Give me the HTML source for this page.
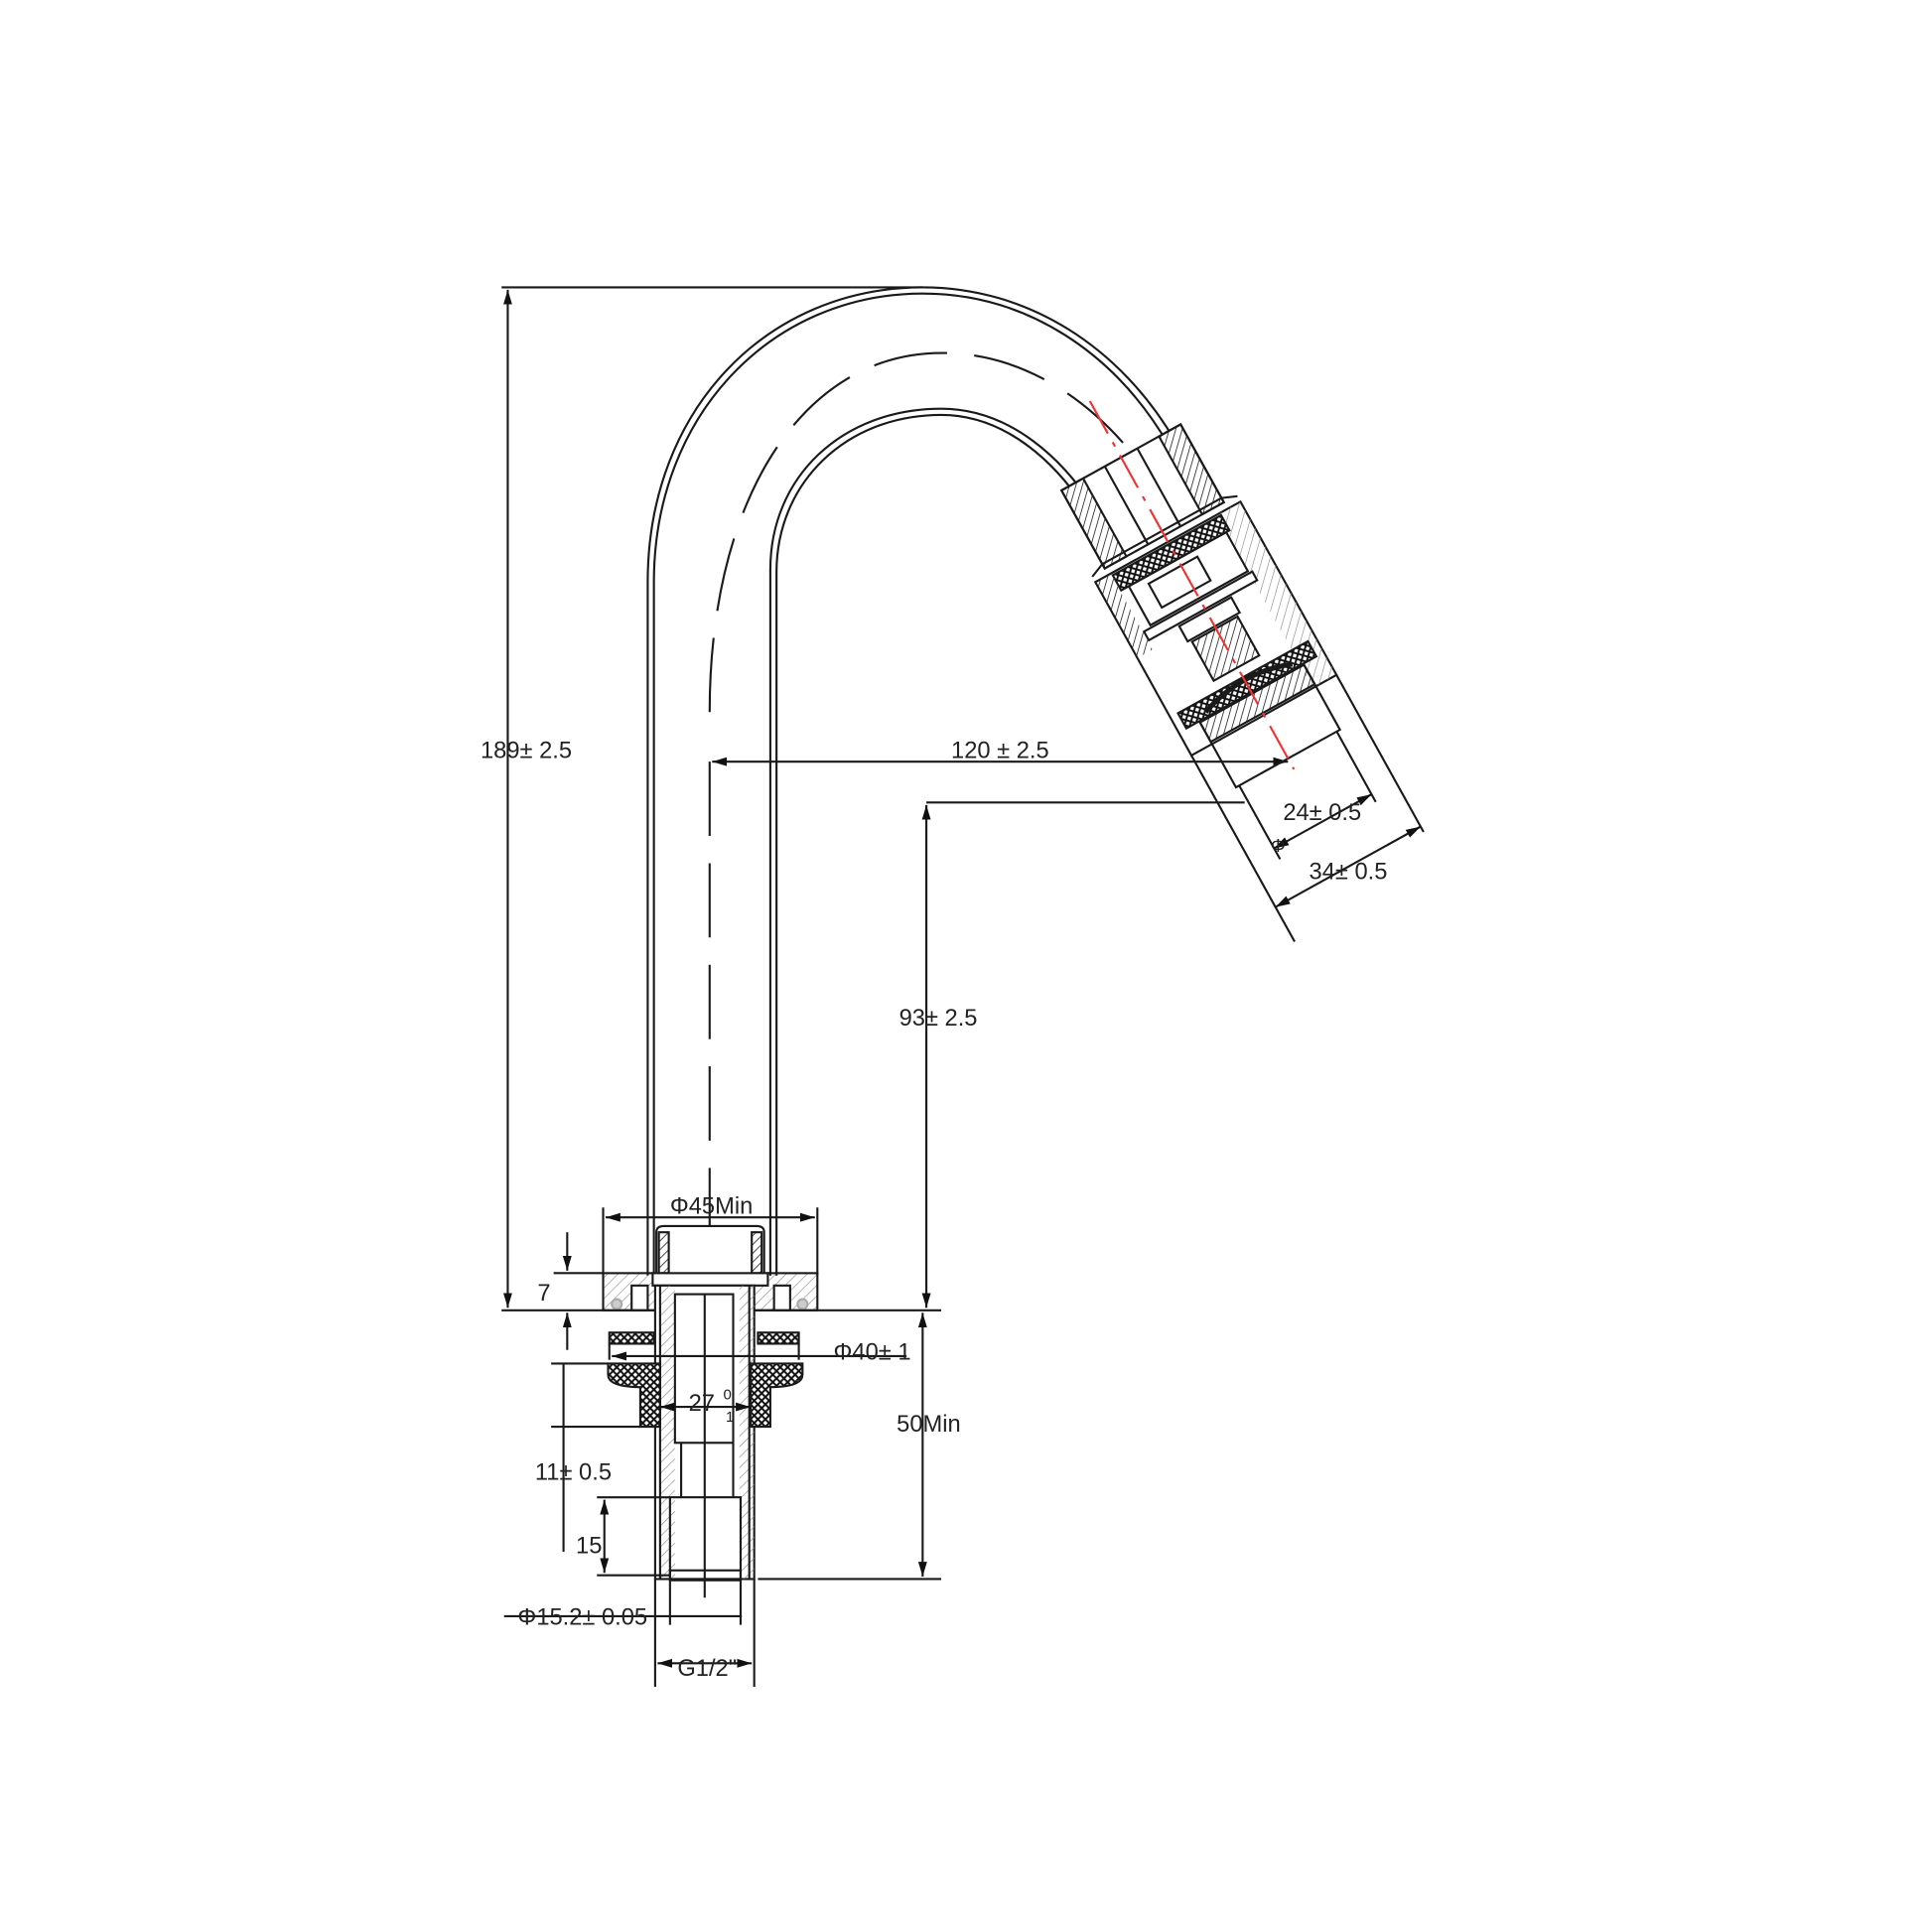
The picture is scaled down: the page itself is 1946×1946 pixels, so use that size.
<!DOCTYPE html>
<html><head><meta charset="utf-8"><style>
html,body{margin:0;padding:0;background:#fff;}
svg{display:block;}
text{font-family:"Liberation Sans",sans-serif;fill:#222;}
</style></head><body>
<svg width="1946" height="1946" viewBox="0 0 1560 1560" xmlns="http://www.w3.org/2000/svg">
<defs>
<pattern id="h" width="6" height="6" patternUnits="userSpaceOnUse" patternTransform="rotate(45)">
<line x1="0" y1="0" x2="0" y2="6" stroke="#888" stroke-width="1"/></pattern>
<pattern id="hd" width="5" height="5" patternUnits="userSpaceOnUse" patternTransform="rotate(45)">
<line x1="0" y1="0" x2="0" y2="5" stroke="#222" stroke-width="1.3"/></pattern>
<pattern id="x" width="6" height="6" patternUnits="userSpaceOnUse">
<rect width="6" height="6" fill="#fff"/><path d="M0 0L6 6M6 0L0 6" stroke="#111" stroke-width="1.6"/></pattern>
<marker id="a" viewBox="0 0 10 10" refX="10" refY="5" markerWidth="7" markerHeight="7" orient="auto-start-reverse"><path d="M0 2L10 5L0 8z" fill="#111"/></marker>
</defs>
<rect width="1560" height="1560" fill="#fff"/>
<g fill="none" stroke="#1a1a1a" stroke-width="1.7">
<line x1="405" y1="232" x2="745" y2="232"/>
<line x1="410" y1="234" x2="410" y2="1056" marker-start="url(#a)" marker-end="url(#a)"/>
<path d="M523,1030 V470 C523,330 620,232 745,232 C830,232 905,280 950,358"/>
<path d="M528,1030 V470 C528,335 623,237 745,237 C828,237 900,284 944,360"/>
<path d="M622,1030 V460 C622,385 680,330 760,330 C815,330 860,370 888,418"/>
<path d="M627,1030 V462 C627,390 683,335 760,335 C812,335 855,374 882,420"/>
<line x1="573" y1="615" x2="573" y2="1075" stroke-dasharray="60,22"/>
<path d="M573,575 C573,400 650,285 760,285 C840,285 900,340 935,395" stroke-dasharray="60,22"/>
<line x1="575" y1="615" x2="1040" y2="615" marker-start="url(#a)" marker-end="url(#a)"/>
<line x1="748" y1="648" x2="1005" y2="648"/>
<line x1="748" y1="650" x2="748" y2="1056" marker-start="url(#a)" marker-end="url(#a)"/>
<g transform="translate(991.5,525) rotate(-29)">
<rect x="-55" y="-178" width="110" height="72" fill="#fff"/>
<rect x="-55" y="-178" width="20" height="72" fill="url(#hd)"/>
<rect x="35" y="-178" width="20" height="72" fill="url(#hd)"/>
<line x1="-15" y1="-178" x2="-15" y2="-106"/><line x1="15" y1="-178" x2="15" y2="-106"/>
<path d="M-67,-105 L-55,-110 H55 L67,-105" />
<rect x="-67" y="-100" width="134" height="160"/>
<rect x="45" y="-100" width="22" height="160" fill="url(#h)" stroke="none"/>
<rect x="-67" y="-100" width="14" height="70" fill="url(#hd)" stroke="none"/>
<rect x="-52" y="-98" width="100" height="14" fill="url(#x)"/>
<rect x="-45" y="-84" width="90" height="36"/>
<rect x="-30" y="-78" width="45" height="22"/>
<rect x="-52" y="-46" width="100" height="8"/>
<rect x="-25" y="-36" width="48" height="14"/>
<rect x="-22" y="-20" width="42" height="36" fill="url(#hd)"/>
<rect x="-60" y="25" width="120" height="14" fill="url(#x)"/>
<path d="M-40,35 Q0,20 40,35" stroke-width="4"/>
<rect x="-48" y="40" width="96" height="60"/>
<rect x="-48" y="40" width="96" height="18" fill="url(#hd)"/>
<line x1="-67" y1="60" x2="-67" y2="232"/>
<line x1="67" y1="60" x2="67" y2="205"/>
<line x1="-45" y1="100" x2="-45" y2="168"/>
<line x1="45" y1="100" x2="45" y2="165"/>
<line x1="-45" y1="158" x2="45" y2="158" marker-start="url(#a)" marker-end="url(#a)"/>
<line x1="-67" y1="200" x2="67" y2="200" marker-start="url(#a)" marker-end="url(#a)"/>
<line x1="0" y1="-230" x2="0" y2="110" stroke="#e33" stroke-dasharray="30,8,4,8"/>
</g>
<line x1="487" y1="975" x2="487" y2="1030"/><line x1="660" y1="975" x2="660" y2="1030"/>
<line x1="489" y1="983" x2="658" y2="983" marker-start="url(#a)" marker-end="url(#a)"/>
<rect x="487" y="1028" width="173" height="30" fill="url(#h)"/>
<rect x="510" y="1038" width="13" height="20" fill="#fff"/>
<rect x="625" y="1038" width="13" height="20" fill="#fff"/>
<circle cx="498" cy="1053" r="4" fill="#ccc" stroke="#aaa"/>
<circle cx="648" cy="1053" r="4" fill="#ccc" stroke="#aaa"/>
<path d="M530,1028 V995 Q530,990 536,990 H611 Q617,990 617,995 V1028" fill="#fff"/>
<rect x="532" y="995" width="8" height="33" fill="url(#hd)"/>
<rect x="607" y="995" width="8" height="33" fill="url(#hd)"/>
<rect x="527" y="1028" width="93" height="10" fill="#fff"/>
<line x1="405" y1="1058" x2="760" y2="1058"/>
<line x1="447" y1="1028" x2="487" y2="1028"/>
<line x1="458" y1="995" x2="458" y2="1026" marker-end="url(#a)"/>
<line x1="458" y1="1090" x2="458" y2="1060" marker-end="url(#a)"/>
<rect x="529" y="1038" width="80" height="237" fill="#fff"/>
<rect x="533" y="1038" width="12" height="237" fill="url(#h)" stroke="none"/>
<rect x="597" y="1038" width="12" height="237" fill="url(#h)" stroke="none"/>
<line x1="533" y1="1038" x2="533" y2="1275"/><line x1="605" y1="1038" x2="605" y2="1275"/>
<rect x="545" y="1045" width="47" height="120"/>
<line x1="550" y1="1165" x2="550" y2="1209"/><line x1="592" y1="1165" x2="592" y2="1209"/>
<rect x="541" y="1209" width="57" height="66"/>
<line x1="569" y1="1045" x2="569" y2="1290"/>
<rect x="541" y="1268" width="57" height="8"/>
<rect x="492" y="1076" width="36" height="9" fill="url(#x)"/>
<rect x="612" y="1076" width="33" height="9" fill="url(#x)"/>
<line x1="494" y1="1095" x2="732" y2="1095" marker-start="url(#a)"/>
<line x1="492" y1="1085" x2="492" y2="1098"/><line x1="645" y1="1085" x2="645" y2="1098"/>
<path d="M491,1101 H533 V1152 H517 V1120 Q491,1120 491,1110 Z" fill="url(#x)"/>
<path d="M648,1101 H606 V1152 H622 V1120 Q648,1120 648,1110 Z" fill="url(#x)"/>
<line x1="533" y1="1136" x2="606" y2="1136" marker-start="url(#a)" marker-end="url(#a)"/>
<line x1="445" y1="1101" x2="491" y2="1101"/><line x1="445" y1="1152" x2="517" y2="1152"/>
<line x1="455" y1="1101" x2="455" y2="1253"/>
<line x1="482" y1="1209" x2="541" y2="1209"/><line x1="482" y1="1272" x2="541" y2="1272"/>
<line x1="488" y1="1211" x2="488" y2="1270" marker-start="url(#a)" marker-end="url(#a)"/>
<line x1="612" y1="1275" x2="760" y2="1275"/>
<line x1="745" y1="1060" x2="745" y2="1273" marker-start="url(#a)" marker-end="url(#a)"/>
<line x1="407" y1="1305" x2="599" y2="1305"/>
<line x1="541" y1="1275" x2="541" y2="1312"/><line x1="598" y1="1275" x2="598" y2="1312"/>
<line x1="529" y1="1275" x2="529" y2="1362"/><line x1="609" y1="1275" x2="609" y2="1362"/>
<line x1="531" y1="1343" x2="607" y2="1343" marker-start="url(#a)" marker-end="url(#a)"/>
</g>
<g font-size="19">
<text x="388" y="612">189± 2.5</text>
<text x="768" y="612">120 ± 2.5</text>
<text x="1036" y="662">24± 0.5</text>
<text x="1026" y="688" font-size="15">Φ</text>
<text x="1057" y="710">34± 0.5</text>
<text x="726" y="828">93±   2.5</text>
<text x="541" y="980">Φ45Min</text>
<text x="434" y="1050" fill="#2a4a2a">7</text>
<text x="673" y="1098">Φ40± 1</text>
<text x="556" y="1139">27</text><text x="584" y="1130" font-size="12">0</text><text x="586" y="1148" font-size="12">1</text>
<text x="724" y="1156">50Min</text>
<text x="432" y="1195">11± 0.5</text>
<text x="465" y="1254" fill="#2a4a2a">15</text>
<text x="418" y="1312">Φ15.2± 0.05</text>
<text x="547" y="1353">G1/2"</text>
</g>
</svg>
</body></html>
